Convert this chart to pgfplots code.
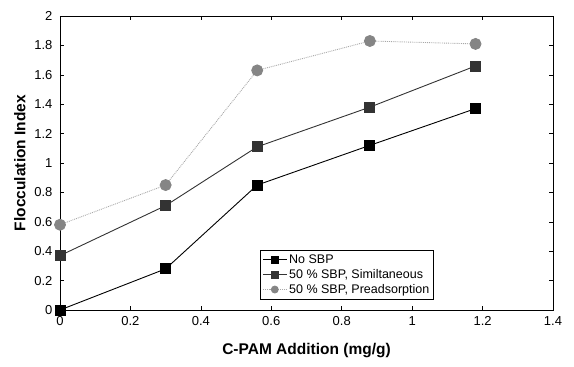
\documentclass[border=0pt]{standalone}
\usepackage{pgfplots}
\pgfplotsset{compat=1.18}
\usepackage{fontspec}
\setmainfont{Liberation Sans}
\definecolor{simgray}{HTML}{333333}
\definecolor{premark}{HTML}{858585}
\definecolor{preline}{HTML}{A8A8A8}
\begin{document}
\begin{tikzpicture}
\useasboundingbox (-60pt,-57pt) rectangle (514pt,310pt);
\begin{axis}[
  at={(0,0)}, anchor=south west,
  scale only axis, width=493pt, height=294pt,
  xmin=0, xmax=1.4, ymin=0, ymax=2,
  xtick={0,0.2,...,1.4}, ytick={0,0.2,...,2},
  xticklabels={0,0.2,0.4,0.6,0.8,1,1.2,1.4},
  yticklabels={0,0.2,0.4,0.6,0.8,1,1.2,1.4,1.6,1.8,2},
  tick align=inside, major tick length=4pt,
  tick style={black, line width=0.5pt},
  axis line style={black, line width=0.8pt},
  ticklabel style={font=\fontsize{13}{15}\selectfont},
  xticklabel style={yshift=-3pt},
  yticklabel style={xshift=-4pt},
  /pgf/number format/assume math mode=true,
  xlabel={\textbf{C-PAM Addition (mg/g)}},
  ylabel={\textbf{Flocculation Index}},
  label style={font=\fontsize{15.5}{18}\selectfont},
  xlabel style={yshift=-11pt},
  ylabel style={yshift=2pt},
  legend style={at={(0.406,0.037)}, anchor=south west, draw=black, line width=0.6pt,
    font=\fontsize{12.5}{14}\selectfont, row sep=0.5pt, inner sep=2pt},
  legend cell align=left,
  legend image code/.code={\draw[mark repeat=2,mark phase=2,#1] plot coordinates {(0cm,0cm) (0.42cm,0cm) (0.84cm,0cm)};},
  legend image post style={mark size=3.5pt, line width=0.8pt},
]
\addplot[black, line width=0.9pt, mark=square*, mark size=5pt, mark options={solid, fill=black}]
  coordinates {(0,0) (0.3,0.28) (0.56,0.85) (0.88,1.12) (1.18,1.37)};
\addlegendentry{No SBP}
\addplot[simgray, line width=0.9pt, mark=square*, mark size=5pt, mark options={solid, fill=simgray, draw=simgray}]
  coordinates {(0,0.37) (0.3,0.71) (0.56,1.11) (0.88,1.38) (1.18,1.66)};
\addlegendentry{50 \% SBP, Similtaneous}
\addplot[preline, line width=0.9pt, densely dotted, mark=*, mark size=5.5pt, mark options={solid, fill=premark, draw=premark}]
  coordinates {(0,0.58) (0.3,0.85) (0.56,1.63) (0.88,1.83) (1.18,1.81)};
\addlegendentry{50 \% SBP, Preadsorption}
\end{axis}
\end{tikzpicture}
\end{document}
